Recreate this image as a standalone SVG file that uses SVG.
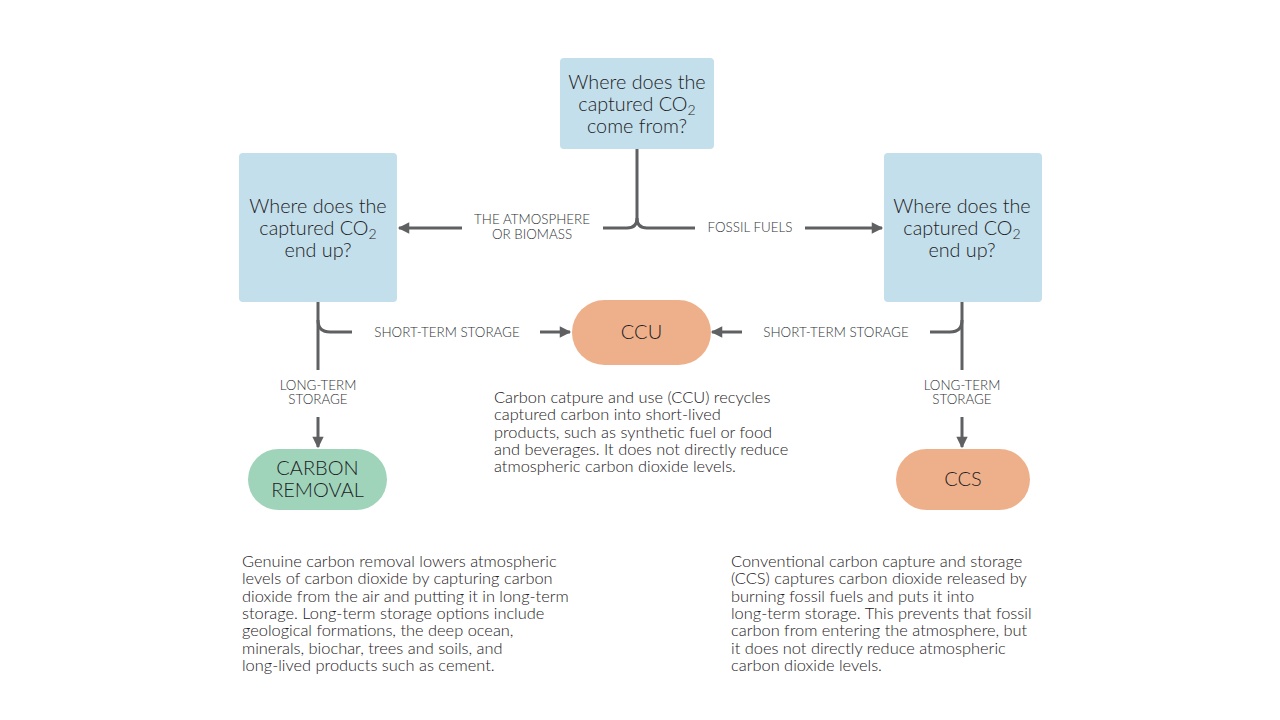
<svg xmlns="http://www.w3.org/2000/svg" width="1280" height="720" viewBox="0 0 1280 720">
<defs>
<marker id="ah" viewBox="0 0 10 10" refX="9" refY="5" markerWidth="4.6" markerHeight="3.8" orient="auto" markerUnits="strokeWidth">
<path d="M0,0 L10,5 L0,10 Z" fill="#5f6062"/>
</marker>
<style>
.q{fill:#c3dfeb}
.qt{font-family:Lato,"Open Sans",sans-serif;font-size:19.8px;font-weight:300;fill:#1e2124;text-anchor:middle}
.lb{font-family:Lato,"Open Sans",sans-serif;font-size:13.4px;font-weight:300;fill:#303236;text-anchor:middle}
.bt{font-family:Lato,"Open Sans",sans-serif;font-size:16.4px;font-weight:300;fill:#1e2023}
.ln{fill:none;stroke:#5f6062;stroke-width:3}
.ar{fill:none;stroke:#5f6062;stroke-width:3;marker-end:url(#ah)}
.or{fill:#eeb08a}
.gr{fill:#9fd4bb}
.pt{font-family:Lato,"Open Sans",sans-serif;font-size:20px;font-weight:300;fill:#1e2124;text-anchor:middle}
</style>
</defs>
<rect width="1280" height="720" fill="#ffffff"/>

<g id="connectors">
<path class="ln" d="M637,149 V218 Q637,228 627,228 H603"/>
<path class="ln" d="M637,218 Q637,228 647,228 H695"/>
<path class="ar" d="M462,228 H399"/>
<path class="ar" d="M805,228 H882"/>
<path class="ln" d="M318,302 V370"/>
<path class="ln" d="M318,320 Q318,332 330,332 H352"/>
<path class="ar" d="M540,332 H570"/>
<path class="ln" d="M962,302 V370"/>
<path class="ln" d="M962,320 Q962,332 950,332 H930"/>
<path class="ar" d="M742,332 H712"/>
<path class="ar" d="M318,417 V447"/>
<path class="ar" d="M962,417 V447"/>
<text class="lb" x="532" y="224">THE ATMOSPHERE<tspan x="532" dy="15">OR BIOMASS</tspan></text>
<text class="lb" x="750" y="232">FOSSIL FUELS</text>
<text class="lb" x="447" y="337">SHORT-TERM STORAGE</text>
<text class="lb" x="836" y="337">SHORT-TERM STORAGE</text>
<text class="lb" x="318" y="390">LONG-TERM<tspan x="318" dy="14">STORAGE</tspan></text>
<text class="lb" x="962" y="390">LONG-TERM<tspan x="962" dy="14">STORAGE</tspan></text>
</g>

<g id="source">
<rect class="q" x="560" y="58" width="154" height="91" rx="4"/>
<text class="qt" x="637" y="89">Where does the<tspan x="637" dy="22">captured CO<tspan font-size="14" dy="4">2</tspan></tspan><tspan x="637" dy="18">come from?</tspan></text>
</g>

<g id="endup-left">
<rect class="q" x="239" y="153" width="158" height="149" rx="4"/>
<text class="qt" x="318" y="213">Where does the<tspan x="318" dy="22">captured CO<tspan font-size="14" dy="4">2</tspan></tspan><tspan x="318" dy="18">end up?</tspan></text>
</g>

<g id="endup-right">
<rect class="q" x="884" y="153" width="158" height="149" rx="4"/>
<text class="qt" x="962" y="213">Where does the<tspan x="962" dy="22">captured CO<tspan font-size="14" dy="4">2</tspan></tspan><tspan x="962" dy="18">end up?</tspan></text>
</g>

<g id="ccu">
<rect class="or" x="572" y="300" width="139" height="65" rx="32.5"/>
<text class="pt" x="641.5" y="339">CCU</text>
</g>

<g id="carbon-removal">
<rect class="gr" x="248" y="449" width="139" height="61" rx="30.5"/>
<text class="pt" x="317.5" y="475">CARBON<tspan x="317.5" dy="22">REMOVAL</tspan></text>
</g>

<g id="ccs">
<rect class="or" x="896" y="449" width="134" height="61" rx="30.5"/>
<text class="pt" x="963" y="486">CCS</text>
</g>

<g id="ccu-text">
<text class="bt" x="494" y="403">Carbon catpure and use (CCU) recycles<tspan x="494" dy="17.3">captured carbon into short-lived</tspan><tspan x="494" dy="17.3">products, such as synthetic fuel or food</tspan><tspan x="494" dy="17.3">and beverages. It does not directly reduce</tspan><tspan x="494" dy="17.3">atmospheric carbon dioxide levels.</tspan></text>
</g>

<g id="removal-text">
<text class="bt" x="242" y="567">Genuine carbon removal lowers atmospheric<tspan x="242" dy="17.3">levels of carbon dioxide by capturing carbon</tspan><tspan x="242" dy="17.3">dioxide from the air and putting it in long-term</tspan><tspan x="242" dy="17.3">storage. Long-term storage options include</tspan><tspan x="242" dy="17.3">geological formations, the deep ocean,</tspan><tspan x="242" dy="17.3">minerals, biochar, trees and soils, and</tspan><tspan x="242" dy="17.3">long-lived products such as cement.</tspan></text>
</g>

<g id="ccs-text">
<text class="bt" x="731" y="567">Conventional carbon capture and storage<tspan x="731" dy="17.3">(CCS) captures carbon dioxide released by</tspan><tspan x="731" dy="17.3">burning fossil fuels and puts it into</tspan><tspan x="731" dy="17.3">long-term storage. This prevents that fossil</tspan><tspan x="731" dy="17.3">carbon from entering the atmosphere, but</tspan><tspan x="731" dy="17.3">it does not directly reduce atmospheric</tspan><tspan x="731" dy="17.3">carbon dioxide levels.</tspan></text>
</g>
</svg>
